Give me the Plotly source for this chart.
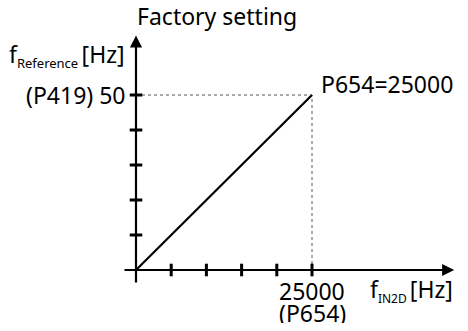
import plotly.graph_objects as go

# Characteristic: input frequency f_IN2D -> reference frequency
x_line = [0, 25000]
y_line = [0, 50]

# Axis tick positions
x_ticks = [5000, 10000, 15000, 20000, 25000]
y_ticks = [10, 20, 30, 40, 50]

X_MAX = 25000
Y_MAX = 50

FONT = "Noto Sans"
FS = 23

fig = go.Figure()

# dotted helper lines to the end point
fig.add_trace(go.Scatter(x=[0, X_MAX, X_MAX], y=[Y_MAX, Y_MAX, 0], mode="lines",
                         line=dict(color="#555555", width=1, dash="dot"),
                         hoverinfo="skip", showlegend=False))

# main characteristic
fig.add_trace(go.Scatter(x=x_line, y=y_line, mode="lines",
                         line=dict(color="black", width=2.2),
                         hoverinfo="skip", showlegend=False))

# tick marks crossing the axes
fig.add_trace(go.Scatter(x=x_ticks, y=[0] * len(x_ticks), mode="markers",
                         marker=dict(symbol="line-ns", size=9,
                                     line=dict(color="black", width=3)),
                         hoverinfo="skip", showlegend=False))
fig.add_trace(go.Scatter(x=[0] * len(y_ticks), y=y_ticks, mode="markers",
                         marker=dict(symbol="line-ew", size=9,
                                     line=dict(color="black", width=3)),
                         hoverinfo="skip", showlegend=False))

# axes with arrow heads
fig.add_annotation(x=45200, y=0, ax=-1850, ay=0, xref="x", yref="y",
                   axref="x", ayref="y", text="", showarrow=True,
                   arrowhead=2, arrowsize=1.1, arrowwidth=2.2, arrowcolor="black")
fig.add_annotation(x=0, y=67, ax=0, ay=-4, xref="x", yref="y",
                   axref="x", ayref="y", text="", showarrow=True,
                   arrowhead=2, arrowsize=1.1, arrowwidth=2.2, arrowcolor="black")

font = dict(family=FONT, size=FS, color="black")

# pixel mapping: origin at (136, 270), end point at (312, 95)
px_x = 176 / X_MAX
px_y = 175 / Y_MAX

fig.add_annotation(x=X_MAX * 0.46, y=Y_MAX, yshift=79, text="Factory setting",
                   showarrow=False, xanchor="center", yanchor="middle", font=font)
fig.add_annotation(x=0, y=Y_MAX, xshift=-9, yshift=40,
                   text="f<sub><span style='font-size:13px'>Reference </span></sub>[Hz]",
                   showarrow=False, xanchor="right", yanchor="middle", font=font)
fig.add_annotation(x=0, y=Y_MAX, xshift=-9, text="(P419) " + str(Y_MAX),
                   showarrow=False, xanchor="right", yanchor="middle", font=font)
fig.add_annotation(x=X_MAX, y=Y_MAX, xshift=7, yshift=11, text="P654=" + str(X_MAX),
                   showarrow=False, xanchor="left", yanchor="middle", font=font)
fig.add_annotation(x=X_MAX, y=0, yshift=-20, text=str(X_MAX), height=21,
                   showarrow=False, xanchor="center", yanchor="middle", font=font)
fig.add_annotation(x=X_MAX, y=0, yshift=-42, text="(P654)", height=21,
                   showarrow=False, xanchor="center", yanchor="middle", font=font)
fig.add_annotation(x=X_MAX, y=0, xshift=56, yshift=-20,
                   text="f<sub><span style='font-size:12px'>IN2D </span></sub>[Hz]",
                   showarrow=False, xanchor="left", yanchor="middle", font=font)

fig.update_layout(
    width=468, height=331,
    margin=dict(l=0, r=0, t=0, b=0),
    paper_bgcolor="white", plot_bgcolor="white",
    xaxis=dict(visible=False, range=[-136 / px_x, (468 - 136) / px_x], fixedrange=True),
    yaxis=dict(visible=False, range=[-(331 - 270) / px_y, 270 / px_y], fixedrange=True),
    showlegend=False,
)

fig.write_html("out.html")
